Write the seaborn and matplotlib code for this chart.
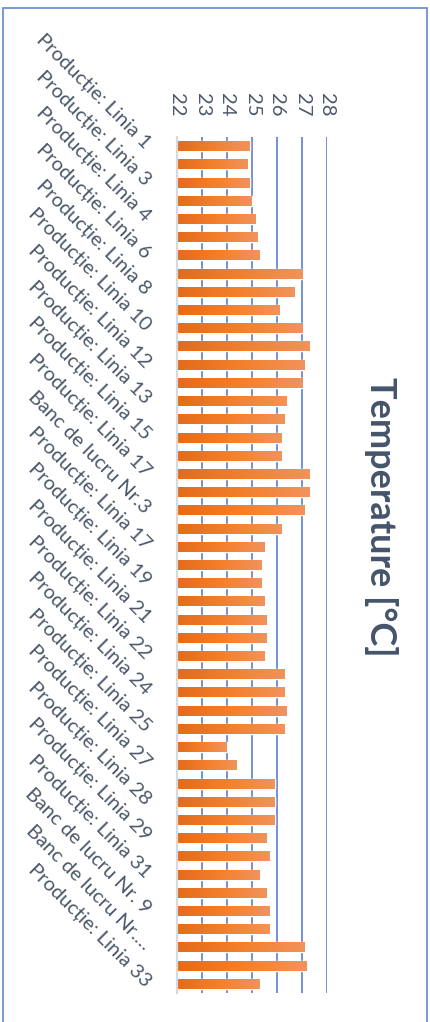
import matplotlib
matplotlib.use("Agg")
import matplotlib.pyplot as plt
from matplotlib.colors import LinearSegmentedColormap
import seaborn as sns
import pandas as pd
import numpy as np

# --- data ---
categories = [
    "Producție: Linia 1", "Producție: Linia 2", "Producție: Linia 3", "Producție: Linia 3",
    "Producție: Linia 4", "Producție: Linia 5", "Producție: Linia 6", "Producție: Linia 7",
    "Producție: Linia 8", "Producție: Linia 9", "Producție: Linia 10", "Producție: Linia 11",
    "Producție: Linia 12", "Producție: Linia 12", "Producție: Linia 13", "Producție: Linia 14",
    "Producție: Linia 15", "Producție: Linia 16", "Producție: Linia 17", "Banc de lucru Nr.2",
    "Banc de lucru Nr.3", "Producție: Linia 17", "Producție: Linia 17", "Producție: Linia 18",
    "Producție: Linia 19", "Producție: Linia 20", "Producție: Linia 21", "Producție: Linia 21",
    "Producție: Linia 22", "Producție: Linia 23", "Producție: Linia 24", "Producție: Linia 24",
    "Producție: Linia 25", "Producție: Linia 26", "Producție: Linia 27", "Producție: Linia 27",
    "Producție: Linia 28", "Producție: Linia 28", "Producție: Linia 29", "Producție: Linia 30",
    "Producție: Linia 31", "Banc de lucru Nr. 8", "Banc de lucru Nr. 9", "Banc de lucru Nr. 10",
    "Banc de lucru Nr.…", "Producție: Linia 32", "Producție: Linia 33",
]
temperature = [
    24.92, 24.81, 24.92, 25.00, 25.13, 25.21, 25.32,
    27.04, 26.72, 26.12, 27.04, 27.32, 27.12, 27.04, 26.40, 26.32, 26.20, 26.20, 27.32, 27.32, 27.12,
    26.20, 25.52, 25.40, 25.40, 25.52, 25.60, 25.60, 25.52, 26.32, 26.32, 26.40, 26.32, 24.00,
    24.40, 25.92, 25.92, 25.92, 25.60, 25.72, 25.32, 25.60, 25.72, 25.72, 27.12, 27.20, 25.32,
]
x_ticks = [22, 23, 24, 25, 26, 27, 28]
title = "Temperature [°C]"

sns.set_theme(style="white")
plt.rcParams["font.family"] = ["Lato", "DejaVu Sans"]

text_col = "#4C586A"
df = pd.DataFrame({"pos": np.arange(len(categories)), "temp": temperature})

fig = plt.figure(figsize=(4.3, 10.22), dpi=100)
ax = fig.add_axes([177 / 430, 1 - 993 / 1022, 150 / 430, 856 / 1022])

sns.barplot(data=df, x="temp", y="pos", orient="h", width=0.55, color="#F07D2C",
            ax=ax, zorder=2)

# per-bar gradient, like the office-style fill
grad = LinearSegmentedColormap.from_list("bar", ["#E36B1B", "#F47F2A", "#F1935C"])
for bar in ax.patches:
    y0, h = bar.get_y(), bar.get_height()
    x1 = bar.get_x() + bar.get_width()
    im = ax.imshow(np.linspace(0, 1, 256).reshape(1, -1), cmap=grad, aspect="auto",
                   extent=[x_ticks[0], x1, y0 + h, y0], zorder=2.1, interpolation="bilinear")
    im.set_clip_path(bar)

ax.set_xlim(x_ticks[0], x_ticks[-1])
ax.set_ylim(len(categories) - 0.5, -0.5)
ax.set_xticks(x_ticks)
ax.set_xticklabels([str(t) for t in x_ticks])
ax.xaxis.tick_top()
ax.tick_params(axis="x", length=0, pad=15, labelrotation=-90, labelsize=14.5, colors=text_col)

ax.set_yticks(df["pos"][::2])
ax.set_yticklabels(categories[::2])
ax.tick_params(axis="y", length=0, pad=21, labelsize=14.5, colors=text_col)
for lab in ax.get_yticklabels():
    lab.set_rotation(-45)
    lab.set_rotation_mode("anchor")
    lab.set_ha("right")
    lab.set_va("center")

ax.set_xlabel(""); ax.set_ylabel("")
ax.xaxis.grid(True, color="#5B7FCB", linewidth=1.2)
ax.set_axisbelow(True)
for s in ["top", "right", "bottom"]:
    ax.spines[s].set_visible(False)
ax.spines["left"].set_color("#D9D9D9"); ax.spines["left"].set_linewidth(1.6)

fig.text(381 / 430, 1 - 517 / 1022, title, rotation=-90, ha="center", va="center",
         fontsize=26, fontweight="bold", color="#44546A")

# chart border
fig.patches.append(plt.Rectangle((3 / 430, -0.01), 423.5 / 430, 1.01 - 8 / 1022,
                                 transform=fig.transFigure, fill=False,
                                 edgecolor="#6F91D3", linewidth=1.3))

fig.savefig("out.png", dpi=100)
